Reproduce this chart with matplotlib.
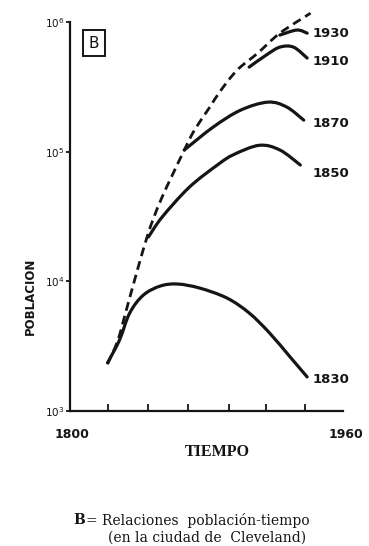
import matplotlib

matplotlib.use("Agg")
import matplotlib.pyplot as plt
import numpy as np
from matplotlib.patches import PathPatch
from matplotlib.path import Path
from matplotlib.ticker import FixedLocator, NullLocator

# envelope (dashed) and one solid curve per cohort
env_years = [1822, 1828, 1833, 1840, 1845, 1849, 1854, 1860, 1867, 1873, 1882, 1888, 1898, 1910, 1923, 1941]
env_pop = [2300, 3500, 6000, 12900, 21600, 30800, 44700, 66100, 103000, 147000, 221000, 292000,
           426000, 575000, 820000, 1170000]

c1830_years = [1822, 1829, 1835, 1843, 1853, 1863, 1876, 1892, 1905, 1917, 1929, 1939]
c1830_pop = [2350, 3520, 5700, 7830, 9200, 9530, 8870, 7430, 5700, 3990, 2610, 1830]

c1850_years = [1846, 1854, 1870, 1887, 1896, 1911, 1923, 1935]
c1850_pop = [22000, 31300, 53300, 80000, 95000, 112000, 103000, 78900]

c1870_years = [1867, 1884, 1900, 1916, 1927, 1937]
c1870_pop = [103000, 155000, 209000, 241000, 221000, 175000]

c1910_years = [1905, 1915, 1923, 1931, 1939]
c1910_pop = [449000, 556000, 640000, 640000, 527000]

c1930_years = [1923, 1933, 1939]
c1930_pop = [793000, 867000, 820000]

curve_labels = ["1830", "1850", "1870", "1910", "1930"]
x_ticks = [1822, 1846, 1869, 1893, 1915, 1938]

INK = "#151515"


def smooth(xs, ys):
    # Catmull-Rom through the points as Bezier segments, done in log space
    p = np.column_stack([xs, np.log10(ys)]).astype(float)
    n = len(p)
    verts = [p[0]]
    codes = [Path.MOVETO]
    for i in range(n - 1):
        p0, p1, p2 = p[max(i - 1, 0)], p[i], p[i + 1]
        p3 = p[min(i + 2, n - 1)]
        verts += [p1 + (p2 - p0) / 6, p2 - (p3 - p1) / 6, p2]
        codes += [Path.CURVE4] * 3
    v = np.array(verts)
    v[:, 1] = 10 ** v[:, 1]
    return Path(v, codes)


fig = plt.figure(figsize=(3.69, 5.46), dpi=100)
ax = fig.add_axes([0.1897, 0.2473, 0.7398, 0.7124])
ax.set_yscale("log")
ax.set_ylim(1e3, 1e6)
ax.set_xlim(1800, 1960)

ax.add_patch(PathPatch(smooth(env_years, env_pop), fill=False, ec=INK, lw=2.0,
                       ls=(0, (3.2, 1.9)), clip_on=False))
curves = [
    (c1830_years, c1830_pop),
    (c1850_years, c1850_pop),
    (c1870_years, c1870_pop),
    (c1910_years, c1910_pop),
    (c1930_years, c1930_pop),
]
label_dy = [-3, -8, -3, -3, 0]
for (xs, ys), lab, dy in zip(curves, curve_labels, label_dy):
    ax.add_patch(PathPatch(smooth(xs, ys), fill=False, ec=INK, lw=2.3,
                           capstyle="round", joinstyle="round", clip_on=False))
    ax.annotate(lab, xy=(0.89, ys[-1]), xycoords=ax.get_yaxis_transform(),
                xytext=(0, dy), textcoords="offset pixels",
                ha="left", va="center", fontsize=9.5, fontweight="bold", color=INK,
                annotation_clip=False)

ax.yaxis.set_major_locator(FixedLocator([1e3, 1e4, 1e5, 1e6]))
ax.yaxis.set_minor_locator(NullLocator())
ax.set_xticks(x_ticks)
ax.set_xticklabels([])
ax.tick_params(axis="x", direction="in", length=5, width=1.3, color=INK)
ax.tick_params(axis="y", direction="out", length=3, width=1.3, color=INK,
               labelsize=7.5, pad=1, labelcolor=INK)

for side in ("top", "right"):
    ax.spines[side].set_visible(False)
for side in ("left", "bottom"):
    ax.spines[side].set_linewidth(1.6)
    ax.spines[side].set_color(INK)

ax.text(1801, -0.045, "1800", transform=ax.get_xaxis_transform(), ha="center", va="top",
        fontsize=9, fontweight="bold", color=INK)
ax.text(1962, -0.045, "1960", transform=ax.get_xaxis_transform(), ha="center", va="top",
        fontsize=9, fontweight="bold", color=INK)

ax.text(0.088, 0.946, "B", transform=ax.transAxes, ha="center", va="center",
        fontsize=11, color=INK,
        bbox=dict(boxstyle="square,pad=0.35", fc="white", ec=INK, lw=1.4))

fig.text(0.081, 0.458, "POBLACION", rotation=90, ha="center", va="center",
         fontsize=8.5, fontweight="bold", color=INK)
fig.text(0.59, 0.172, "TIEMPO", ha="center", va="center",
         family="Liberation Serif", fontsize=11.5, fontweight="bold", color=INK)
fig.text(0.198, 0.0476, "B", ha="left", va="center",
         family="DejaVu Serif", fontsize=10, fontweight="bold", color=INK)
fig.text(0.234, 0.0476, "= Relaciones  población-tiempo", ha="left", va="center",
         family="DejaVu Serif", fontsize=10, color=INK)
fig.text(0.293, 0.0147, "(en la ciudad de  Cleveland)", ha="left", va="center",
         family="DejaVu Serif", fontsize=10, color=INK)

fig.savefig("out.png", dpi=100, facecolor="white")
